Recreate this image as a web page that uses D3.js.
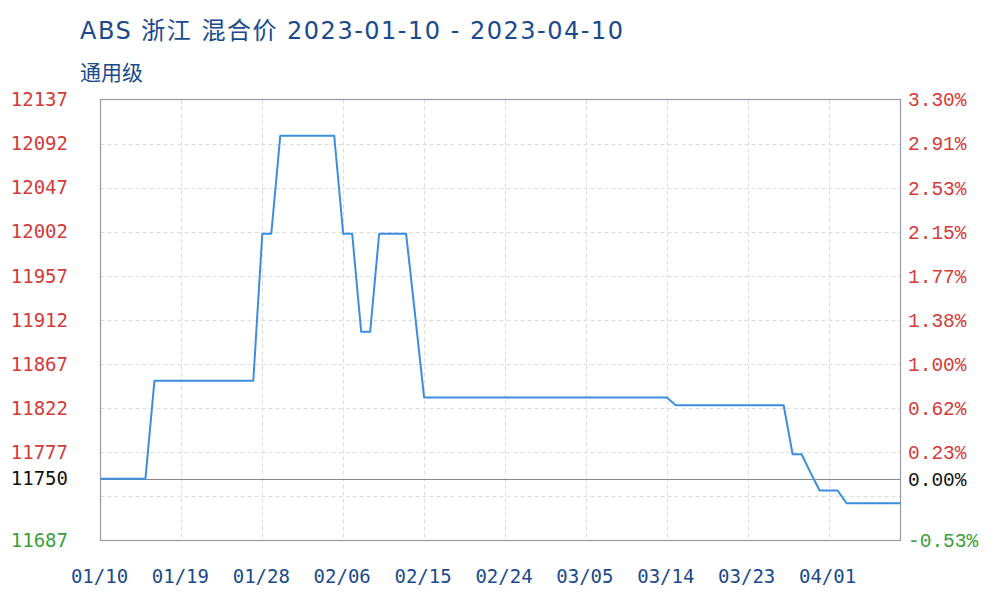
<!DOCTYPE html>
<html><head><meta charset="utf-8">
<script src="https://cdn.jsdelivr.net/npm/d3@7"></script>
<style>html,body{margin:0;padding:0;background:#fff;}svg{display:block;}</style>
</head><body>
<svg id="chart" width="1000" height="600"></svg>
<script>
const titleText = "ABS 浙江 混合价 2023-01-10 - 2023-04-10";
const subtitleText = "通用级";
const dates = ["2023-01-10","2023-01-15","2023-01-16","2023-01-27","2023-01-28","2023-01-29","2023-01-30","2023-02-05","2023-02-06","2023-02-07","2023-02-08","2023-02-09","2023-02-10","2023-02-13","2023-02-14","2023-02-15","2023-03-14","2023-03-15","2023-03-27","2023-03-28","2023-03-29","2023-03-30","2023-03-31","2023-04-02","2023-04-03","2023-04-09"];
const prices = [11750,11750,11850,11850,12000,12000,12100,12100,12000,12000,11900,11900,12000,12000,11917,11833,11833,11825,11825,11775,11775,11756,11738,11738,11725,11725];
const basePrice = 11750;
const gridValues = [12137,12092,12047,12002,11957,11912,11867,11822,11777,11732,11687];
const leftTickValues = [12137,12092,12047,12002,11957,11912,11867,11822,11777,11750,11687];
const leftTickLabels = ["12137","12092","12047","12002","11957","11912","11867","11822","11777","11750","11687"];
const rightTickLabels = ["3.30%","2.91%","2.53%","2.15%","1.77%","1.38%","1.00%","0.62%","0.23%","0.00%","-0.53%"];
const xTickDates = ["2023-01-10","2023-01-19","2023-01-28","2023-02-06","2023-02-15","2023-02-24","2023-03-05","2023-03-14","2023-03-23","2023-04-01"];
const xDomain = ["2023-01-10","2023-04-09"];

const parse = d3.timeParse("%Y-%m-%d");
const fmt = d3.timeFormat("%m/%d");
const data = dates.map((d,i)=>({date:parse(d), v:prices[i]}));

const L=100.5, R=900.5, T=99.5, B=540.5;
const svg = d3.select("#chart");
const x = d3.scaleTime().domain(xDomain.map(parse)).range([L,R]);
const y = d3.scaleLinear().domain([11687,12137]).range([B,T]);

const colorOf = v => v>basePrice ? "#d43a3a" : (v<basePrice ? "#3a9e3a" : "#111");

// title
svg.append("text").attr("x",80).attr("y",39).attr("fill","#1b4a8c")
  .attr("font-family","'DejaVu Sans','Noto Sans CJK SC',sans-serif").attr("font-size",24)
  .attr("letter-spacing","1.5px").text(titleText);
svg.append("text").attr("x",80).attr("y",80).attr("fill","#1b4a8c")
  .attr("font-family","'Noto Sans CJK SC',sans-serif").attr("font-size",21).text(subtitleText);

// plot background
svg.append("rect").attr("x",L).attr("y",T).attr("width",R-L).attr("height",B-T).attr("fill","#fff");

// grid
const g = svg.append("g");
g.selectAll(".hg").data(gridValues.filter(v=>v!==12137 && v!==11687)).enter().append("line")
  .attr("x1",L).attr("x2",R).attr("y1",d=>Math.round(y(d))+0.5).attr("y2",d=>Math.round(y(d))+0.5)
  .attr("stroke","#dcdcdc").attr("stroke-dasharray","4,3");
g.selectAll(".vg").data(xTickDates.slice(1).map(parse)).enter().append("line")
  .attr("x1",d=>Math.round(x(d))+0.5).attr("x2",d=>Math.round(x(d))+0.5).attr("y1",T).attr("y2",B)
  .attr("stroke","#dcdcdc").attr("stroke-dasharray","4,3");

// base line
svg.append("line").attr("x1",L).attr("x2",R).attr("y1",Math.round(y(basePrice))+0.5).attr("y2",Math.round(y(basePrice))+0.5)
  .attr("stroke","#888").attr("stroke-width",1.2);

// border
svg.append("rect").attr("x",L).attr("y",T).attr("width",R-L).attr("height",B-T)
  .attr("fill","none").attr("stroke","#9a9aa6").attr("stroke-width",1.2);

// line
const line = d3.line().x(d=>x(d.date)).y(d=>y(d.v));
svg.append("path").datum(data).attr("d",line).attr("fill","none")
  .attr("stroke","#3b8ede").attr("stroke-width",2).attr("stroke-linejoin","round");

// left axis labels
svg.selectAll(".lt").data(leftTickValues).enter().append("text")
  .attr("x",68).attr("y",d=>y(d)).attr("dy","0.35em").attr("text-anchor","end")
  .attr("font-family","'DejaVu Sans Mono',monospace").attr("font-size",19)
  .attr("fill",d=>colorOf(d)).text((d,i)=>leftTickLabels[i]);

// right axis labels
svg.selectAll(".rt").data(leftTickValues).enter().append("text")
  .attr("x",908).attr("y",d=>y(d)).attr("dy","0.35em").attr("text-anchor","start")
  .attr("font-family","'Liberation Mono',monospace").attr("font-size",19.5)
  .attr("fill",d=>colorOf(d)).text((d,i)=>rightTickLabels[i]);

// x axis labels
svg.selectAll(".xt").data(xTickDates.map(parse)).enter().append("text")
  .attr("x",d=>x(d)-1).attr("y",583).attr("text-anchor","middle")
  .attr("font-family","'DejaVu Sans Mono',monospace").attr("font-size",19)
  .attr("fill","#1b4a8c").text(d=>fmt(d));
</script>
</body></html>
